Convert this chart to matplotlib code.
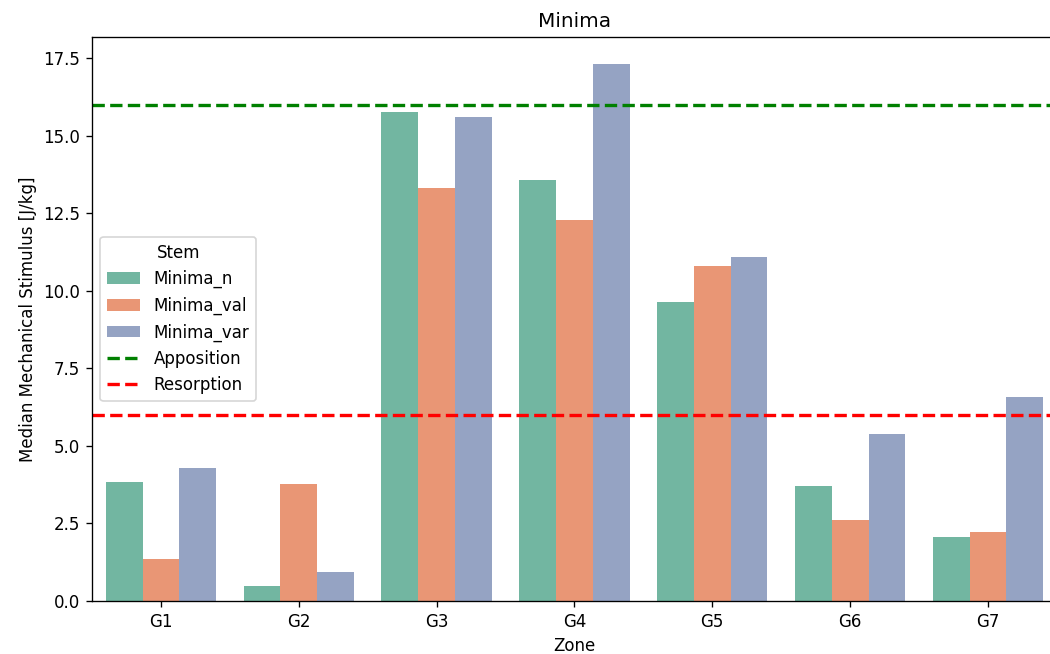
import numpy as np
import pandas as pd
import matplotlib
matplotlib.use("Agg")
import matplotlib.pyplot as plt
import seaborn as sns

zones = ["G1", "G2", "G3", "G4", "G5", "G6", "G7"]
stems = ["Minima_n", "Minima_val", "Minima_var"]
minima_n = [3.85, 0.50, 15.77, 13.59, 9.64, 3.72, 2.06]
minima_val = [1.34, 3.78, 13.31, 12.30, 10.80, 2.62, 2.23]
minima_var = [4.30, 0.94, 15.60, 17.32, 11.09, 5.39, 6.57]
apposition = 16.0
resorption = 6.0

df = pd.DataFrame({
    "Zone": zones * 3,
    "Stem": np.repeat(stems, len(zones)),
    "Value": minima_n + minima_val + minima_var,
})

fig = plt.figure(figsize=(8.75, 5.45), dpi=120)
# axes run slightly past the right edge of the figure
ax = fig.add_axes([0.0876, 0.081, 0.919, 0.8624])

sns.barplot(data=df, x="Zone", y="Value", hue="Stem", palette="Set2",
            saturation=0.75, errorbar=None, ax=ax)
ax.axhline(apposition, color="green", linestyle="--", linewidth=2, label="Apposition")
ax.axhline(resorption, color="red", linestyle="--", linewidth=2, label="Resorption")

ax.set_title("Minima")
ax.set_xlabel("Zone")
ax.set_ylabel("Median Mechanical Stimulus [J/kg]")
ax.set_yticks(np.arange(0, 17.6, 2.5))
ax.set_xlim(-0.5, 6.5)
ax.legend(title="Stem", loc="center left")

fig.savefig("out.png", dpi=120)
